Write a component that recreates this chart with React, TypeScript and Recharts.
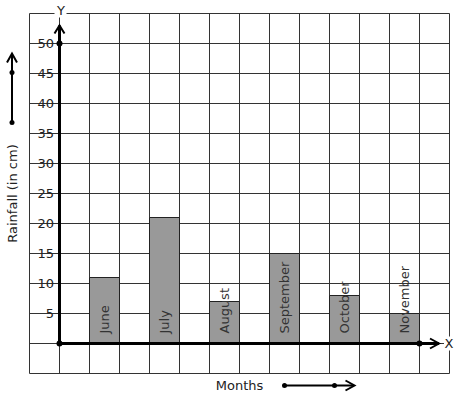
import React from "react";
import {
  BarChart,
  Bar,
  XAxis,
  YAxis,
  CartesianGrid,
  ReferenceLine,
  ReferenceDot,
  LabelList,
} from "recharts";

// rainfall per month (cm)
const months = ["June", "July", "August", "September", "October", "November"];
const rainfall = [11, 21, 7, 15, 8, 5];
// each bar sits in its own grid column, one empty column between them
const slots = [1.5, 3.5, 5.5, 7.5, 9.5, 11.5];

const xTicks = [-1, 0, 1, 2, 3, 4, 5, 6, 7, 8, 9, 10, 11, 12, 13];
const yTicks = [-5, 0, 5, 10, 15, 20, 25, 30, 35, 40, 45, 50, 55];
const yLabelTicks = [5, 10, 15, 20, 25, 30, 35, 40, 45, 50];

const data = months.map((month, i) => ({
  month,
  rainfall: rainfall[i],
  slot: slots[i],
}));

const FONT = "'DejaVu Sans', sans-serif";
const INK = "#222";

const YTick = (props: any) => {
  const { x, y, payload } = props;
  if (!yLabelTicks.includes(payload.value)) return <g />;
  return (
    <text
      x={x + 24.5}
      y={y}
      textAnchor="end"
      dominantBaseline="central"
      fontSize={13}
      fontFamily={FONT}
      fill={INK}
    >
      {payload.value}
    </text>
  );
};

// x ticks only feed the vertical grid lines
const NoTick = () => <g />;

const MonthLabel = (props: any) => {
  const { x, y, width, height, value } = props;
  const cx = x + width / 2;
  const by = y + height - 10;
  return (
    <text
      x={cx}
      y={by}
      transform={`rotate(-90 ${cx} ${by})`}
      textAnchor="start"
      dominantBaseline="central"
      fontSize={13}
      fontFamily={FONT}
      fill="#333"
    >
      {value}
    </text>
  );
};

// thick axis with an open chevron at its end
const YAxisArrow = (props: any) => {
  const { x1, y1, x2, y2 } = props;
  return (
    <g>
      <line x1={x1} y1={y1} x2={x2} y2={y2} stroke="#000" strokeWidth={3} />
      <polyline
        points={`${x2 - 5},${y2 + 8} ${x2},${y2} ${x2 + 5},${y2 + 8}`}
        fill="none"
        stroke="#000"
        strokeWidth={2}
      />
      <rect x={x2 - 5} y={y2 - 20} width={12} height={12} fill="#fff" />
      <text
        x={x2 + 1.5}
        y={y2 - 15}
        textAnchor="middle"
        dominantBaseline="central"
        fontSize={13}
        fontFamily={FONT}
        fill={INK}
      >
        Y
      </text>
    </g>
  );
};

const XAxisArrow = (props: any) => {
  const { x1, y1, x2, y2 } = props;
  return (
    <g>
      <line x1={x1} y1={y1} x2={x2} y2={y2} stroke="#000" strokeWidth={3} />
      <polyline
        points={`${x2 - 9},${y2 - 5} ${x2},${y2} ${x2 - 9},${y2 + 5}`}
        fill="none"
        stroke="#000"
        strokeWidth={2}
      />
      <rect x={x2 + 5} y={y2 - 7} width={10} height={14} fill="#fff" />
      <text
        x={x2 + 10}
        y={y2}
        textAnchor="middle"
        dominantBaseline="central"
        fontSize={13}
        fontFamily={FONT}
        fill={INK}
      >
        X
      </text>
    </g>
  );
};

const RainfallLabel = (props: any) => {
  const { viewBox } = props;
  const cx = viewBox.x + 12;
  const cy = viewBox.y + viewBox.height / 2;
  return (
    <g>
      <text
        x={cx}
        y={cy}
        transform={`rotate(-90 ${cx} ${cy})`}
        textAnchor="middle"
        dominantBaseline="central"
        fontSize={13}
        fontFamily={FONT}
        fill={INK}
      >
        Rainfall (in cm)
      </text>
      <line x1={cx} y1={cy - 71} x2={cx} y2={cy - 139} stroke="#000" strokeWidth={2} />
      <polyline
        points={`${cx - 5},${cy - 131} ${cx},${cy - 140} ${cx + 5},${cy - 131}`}
        fill="none"
        stroke="#000"
        strokeWidth={2}
      />
      <circle cx={cx} cy={cy - 71} r={2.5} fill="#000" />
      <circle cx={cx} cy={cy - 121} r={2.5} fill="#000" />
    </g>
  );
};

const MonthsLabel = (props: any) => {
  const { viewBox } = props;
  const cx = viewBox.x + viewBox.width / 2;
  const cy = viewBox.y + 12;
  return (
    <g>
      <text
        x={cx}
        y={cy}
        textAnchor="middle"
        dominantBaseline="central"
        fontSize={13}
        fontFamily={FONT}
        fill={INK}
      >
        Months
      </text>
      <line x1={cx + 45} y1={cy} x2={cx + 114} y2={cy} stroke="#000" strokeWidth={2} />
      <polyline
        points={`${cx + 106},${cy - 5} ${cx + 115},${cy} ${cx + 106},${cy + 5}`}
        fill="none"
        stroke="#000"
        strokeWidth={2}
      />
      <circle cx={cx + 45} cy={cy} r={2.5} fill="#000" />
      <circle cx={cx + 95} cy={cy} r={2.5} fill="#000" />
    </g>
  );
};

export default function App() {
  return (
    <div style={{ position: "absolute", left: 0, top: 0, background: "#fff" }}>
      <BarChart
        width={457}
        height={399}
        data={data}
        margin={{ top: 13.5, right: 7.5, left: 0, bottom: 0 }}
      >
        <CartesianGrid stroke="#333" strokeWidth={1} />
        <XAxis
          dataKey="slot"
          type="number"
          domain={[-1, 13]}
          ticks={xTicks}
          interval={0}
          tick={<NoTick />}
          tickLine={false}
          axisLine={false}
          height={25.5}
          allowDataOverflow
          label={<MonthsLabel />}
        />
        <YAxis
          type="number"
          domain={[-5, 55]}
          ticks={yTicks}
          interval={0}
          width={29.5}
          tickLine={false}
          axisLine={false}
          tickSize={0}
          tickMargin={0}
          tick={<YTick />}
          allowDataOverflow
          label={<RainfallLabel />}
        />
        <Bar
          dataKey="rainfall"
          barSize={30}
          fill="#999999"
          stroke="#222"
          strokeWidth={1}
          isAnimationActive={false}
        >
          <LabelList dataKey="month" content={<MonthLabel />} />
        </Bar>
        <ReferenceLine
          segment={[
            { x: 0, y: 0 },
            { x: 0, y: 53 },
          ]}
          shape={<YAxisArrow />}
          ifOverflow="visible"
        />
        <ReferenceLine
          segment={[
            { x: 0, y: 0 },
            { x: 12.65, y: 0 },
          ]}
          shape={<XAxisArrow />}
          ifOverflow="visible"
        />
        <ReferenceDot x={0} y={0} r={3} fill="#000" stroke="none" />
        <ReferenceDot x={0} y={50} r={3} fill="#000" stroke="none" />
        <ReferenceDot x={12} y={0} r={3} fill="#000" stroke="none" />
      </BarChart>
    </div>
  );
}
